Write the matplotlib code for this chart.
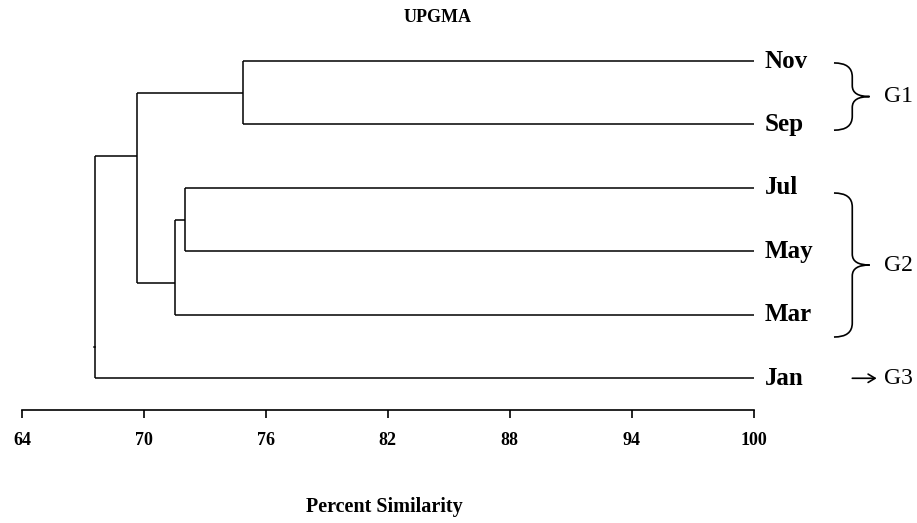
import matplotlib
matplotlib.use("Agg")
import matplotlib.pyplot as plt
from matplotlib.path import Path
from matplotlib.patches import PathPatch

plt.rcParams['font.family'] = ['Liberation Serif', 'DejaVu Serif']

# leaves, top to bottom
leaves = ['Nov', 'Sep', 'Jul', 'May', 'Mar', 'Jan']
# merges: (name, left child, right child, percent similarity)
merges = [
    ('NS', 'Nov', 'Sep', 74.85),
    ('JM', 'Jul', 'May', 72.0),
    ('JMM', 'JM', 'Mar', 71.55),
    ('TOP', 'NS', 'JMM', 69.65),
    ('ROOT', 'TOP', 'Jan', 67.6),
]
ticks = [64, 70, 76, 82, 88, 94, 100]
groups = [('G1', ['Nov', 'Sep']), ('G2', ['Jul', 'May', 'Mar']), ('G3', ['Jan'])]

fig = plt.figure(figsize=(9.17, 5.23), dpi=100)
ax = fig.add_axes([22 / 917, (523 - 410) / 523, 731.7 / 917, (410 - 29.3) / 523])
ax.set_xlim(64, 100)
ax.set_ylim(5.5, -0.5)

# layout: leaves at index, merge node at the gap after its left subtree
pos = {name: i for i, name in enumerate(leaves)}
height = {name: 100.0 for name in leaves}
last = {name: i for i, name in enumerate(leaves)}
lw = 1.1
for name, a, b, sim in merges:
    pos[name] = last[a] + 0.5
    last[name] = last[b]
    height[name] = sim
    ax.plot([sim, sim], [pos[a], pos[b]], color='black', lw=lw, solid_capstyle='butt')
    for c in (a, b):
        ax.plot([sim, height[c]], [pos[c], pos[c]], color='black', lw=lw, solid_capstyle='butt')
root = merges[-1]
ax.plot([root[3] - 0.08, root[3]], [pos[root[0]], pos[root[0]]], color='black', lw=lw)

for name in leaves:
    ax.text(100.55, pos[name], name, fontsize=18, fontweight='bold', va='center', ha='left',
            clip_on=False)


def brace(x0, x1, x2, yt, ym, yb, r1, r2):
    verts = [(x0, yt), (x1, yt), (x1, yt + r1),
             (x1, ym - r2), (x1, ym), (x2, ym),
             (x1, ym), (x1, ym + r2),
             (x1, yb - r1), (x1, yb), (x0, yb)]
    codes = [Path.MOVETO, Path.CURVE3, Path.CURVE3,
             Path.LINETO, Path.CURVE3, Path.CURVE3,
             Path.CURVE3, Path.CURVE3,
             Path.LINETO, Path.CURVE3, Path.CURVE3]
    ax.add_patch(PathPatch(Path(verts, codes), fill=False, lw=1.2, color='black', clip_on=False))


for label, members in groups:
    ys = [pos[m] for m in members]
    if len(members) > 1:
        yt, yb = min(ys) + 0.03, max(ys) + 0.09
        if len(members) > 2:
            yt, yb = min(ys) + 0.08, max(ys) + 0.35
        ym = (yt + yb) / 2
        brace(103.95, 104.85, 105.7, yt, ym, yb, 0.22, 0.17)
        ax.text(106.4, ym, label, fontsize=17, va='center', ha='left', clip_on=False)
    else:
        ax.annotate('', xy=(106.05, ys[0]), xytext=(104.85, ys[0]),
                    arrowprops=dict(arrowstyle='->,head_length=0.5,head_width=0.3',
                                    lw=1.2, color='black', shrinkA=0, shrinkB=0),
                    annotation_clip=False)
        ax.text(106.4, ys[0], label, fontsize=17, va='center', ha='left', clip_on=False)

for s in ['top', 'right', 'left']:
    ax.spines[s].set_visible(False)
ax.spines['bottom'].set_linewidth(1.2)
ax.set_yticks([])
ax.set_xticks(ticks)
ax.set_xticklabels([str(t) for t in ticks], fontsize=13, fontweight='bold')
ax.tick_params(axis='x', direction='out', length=6, width=1.2, pad=10)

fig.text(438 / 917, 1 - 18 / 523, 'UPGMA', fontsize=13, fontweight='bold', ha='center', va='center')
fig.text(384 / 917, 1 - 507 / 523, 'Percent Similarity', fontsize=14.5, fontweight='bold',
         ha='center', va='center')

fig.savefig('out.png', dpi=100)
